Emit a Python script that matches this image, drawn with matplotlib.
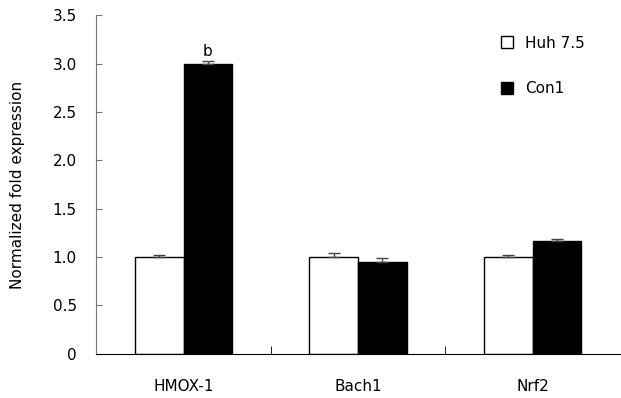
import numpy as np
import matplotlib.pyplot as plt

genes = ['HMOX-1', 'Bach1', 'Nrf2']
huh = [1.0, 1.0, 1.0]
huh_err = [0.02, 0.04, 0.025]
con1 = [3.0, 0.95, 1.17]
con1_err = [0.03, 0.04, 0.015]

fig = plt.figure(figsize=(6.21, 3.98), dpi=100)
ax = fig.add_axes([0.155, 0.111, 0.843, 0.851])

x = np.arange(len(genes)) + 0.5
w = 0.28
ek = dict(ecolor='#444444', elinewidth=1, capsize=4, capthick=1)
ax.bar(x - w / 2, huh, w, color='white', edgecolor='black', lw=1,
       yerr=[np.zeros(3), huh_err], error_kw=ek, label='Huh 7.5')
ax.bar(x + w / 2, con1, w, color='black', edgecolor='black', lw=1,
       yerr=[np.zeros(3), con1_err], error_kw=ek, label='Con1')

ax.text(x[0] + w / 2, con1[0] + con1_err[0] + 0.02, 'b', ha='center', va='bottom', fontsize=11)

ax.set_xlim(0, 3)
ax.set_ylim(0, 3.5)
ax.set_yticks(np.arange(0, 3.51, 0.5))
ax.set_yticklabels(['0'] + ['%.1f' % v for v in np.arange(0.5, 3.51, 0.5)])
ax.set_xticks(x)
ax.set_xticklabels(genes)
ax.set_xticks([1, 2], minor=True)
ax.tick_params(axis='x', which='major', length=0, pad=18, labelsize=11)
ax.tick_params(axis='x', which='minor', direction='in', length=6)
ax.tick_params(axis='y', direction='in', length=4, labelsize=11, pad=14, color='#777777')
ax.set_ylabel('Normalized fold expression', fontsize=11, labelpad=20)

ax.spines['top'].set_visible(False)
ax.spines['right'].set_visible(False)
ax.spines['left'].set_color('#777777')

ax.legend(loc='upper right', bbox_to_anchor=(0.96, 0.98), frameon=False, fontsize=11,
          handlelength=0.8, handleheight=0.8, labelspacing=2.0, handletextpad=0.8)

fig.savefig('out.png', dpi=100)
